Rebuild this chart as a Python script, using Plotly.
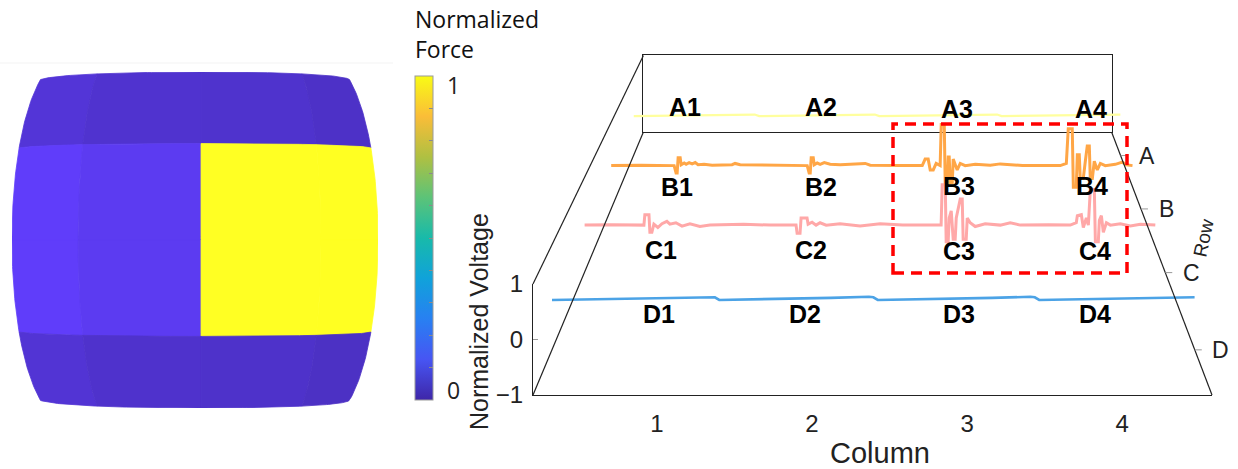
import numpy as np
import plotly.graph_objects as go
from plotly.colors import sample_colorscale, unlabel_rgb

W, H = 1238, 469

# ---------------------------------------------------------------- data
row_names = ["A", "B", "C", "D"]          # A = back row, D = front row
row_pos = [1, 2, 3, 4]
col_ticks = [1, 2, 3, 4]
z_ticks = [-1, 0, 1]
force_ticks = [0, 1]

# normalized force on the 4x4 taxel grid (rows A..D, columns 1..4)
force = [
    [0.0, 0.0, 0.0, 0.0],
    [0.0, 0.0, 1.0, 1.0],
    [0.0, 0.0, 1.0, 1.0],
    [0.0, 0.0, 0.0, 0.0],
]

# normalized voltage traces, x in column units
row_a_x = [0.2, 0.7, 1.0, 1.29, 1.33, 1.8, 2.1, 2.37, 2.41, 2.9, 3.2, 3.47, 3.51, 4.0, 4.58]
row_a_v = [-0.01, 0.01, 0.02, 0.03, -0.01, 0.01, 0.02, 0.03, -0.01, 0.01, 0.02, 0.03, -0.01, 0.01, 0.03]

row_b_x = [0.2, 0.45, 0.721, 0.737, 0.746, 0.754, 0.771, 0.779, 0.804, 0.820, 0.845, 0.870, 0.895,
           0.919, 0.969, 1.035, 1.20, 1.225, 1.267, 1.5, 1.821, 1.837, 1.846, 1.854, 1.871, 1.879,
           1.904, 1.928, 1.962, 2.011, 2.094, 2.301, 2.342, 2.6, 2.772, 2.796, 2.821, 2.838, 2.863,
           2.887, 2.920, 2.929, 2.954, 2.962, 2.978, 2.987, 2.995, 3.003, 3.020, 3.028, 3.045, 3.061,
           3.086, 3.127, 3.210, 3.334, 3.416, 3.6, 3.913, 3.963, 3.979, 4.012, 4.021, 4.045, 4.054,
           4.070, 4.078, 4.103, 4.120, 4.136, 4.153, 4.161, 4.178, 4.194, 4.219, 4.244, 4.285, 4.368,
           4.426, 4.459, 4.51]
row_b_v = [0.0, 0.01, 0.0, -0.17, -0.17, 0.18, 0.18, 0.02, 0.06, 0.03, 0.07, 0.04, 0.07,
           0.02, 0.03, 0.01, 0.02, 0.05, 0.02, 0.01, 0.0, -0.17, -0.17, 0.18, 0.18, 0.02,
           0.06, 0.03, 0.07, 0.03, 0.02, 0.05, 0.01, 0.0, 0.0, 0.15, 0.15, -0.1, -0.1,
           0.05, 0.0, 0.95, 0.95, -0.45, -0.45, 0.2, 0.2, -0.4, -0.4, 0.15, 0.0, -0.1,
           0.05, 0.0, 0.03, 0.01, 0.04, 0.0, 0.0, 0.05, 0.85, 0.85, -0.5, -0.5, 0.25,
           0.25, -0.3, -0.3, 0.1, 0.45, 0.45, -0.3, -0.3, 0.1, -0.1, 0.05, 0.0, 0.03,
           0.08, 0.02, 0.0]

row_c_x = [0.2, 0.4, 0.649, 0.656, 0.687, 0.694, 0.709, 0.724, 0.754, 0.785, 0.822, 0.845, 0.890,
           0.936, 0.996, 1.071, 1.147, 1.4, 1.6, 1.796, 1.804, 1.826, 1.834, 1.879, 1.887, 1.917,
           1.947, 1.977, 2.023, 2.128, 2.279, 2.430, 2.6, 2.890, 2.898, 2.921, 2.928, 2.943, 2.951,
           2.966, 2.981, 2.996, 3.004, 3.034, 3.049, 3.056, 3.079, 3.087, 3.109, 3.147, 3.222, 3.336,
           3.411, 3.487, 3.7, 3.864, 3.909, 3.917, 3.947, 3.962, 3.985, 4.000, 4.015, 4.045, 4.053,
           4.075, 4.083, 4.098, 4.113, 4.136, 4.166, 4.241, 4.317, 4.392, 4.505]
row_c_v = [0.0, 0.01, 0.0, 0.22, 0.22, -0.15, -0.15, 0.02, -0.05, 0.03, 0.08, 0.02, 0.05,
           -0.02, 0.03, -0.03, 0.0, 0.02, 0.0, 0.0, -0.17, -0.17, 0.15, 0.15, 0.02, 0.06,
           0.0, 0.05, 0.0, 0.03, -0.02, 0.03, 0.0, 0.0, 0.85, 0.85, -0.35, -0.35, 0.15,
           0.3, -0.3, -0.3, 0.15, 0.55, 0.55, -0.3, -0.3, 0.15, 0.05, -0.03, 0.03, 0.0,
           0.05, 0.0, 0.01, 0.0, 0.05, 0.2, 0.22, -0.05, 0.15, 0.0, 0.75, 0.75, -0.35,
           -0.35, 0.1, 0.2, -0.15, 0.05, 0.0, 0.03, -0.02, 0.02, 0.0]

row_d_x = [0.2, 0.6, 1.0, 1.28, 1.31, 1.34, 1.8, 2.1, 2.36, 2.39, 2.42, 2.9, 3.2, 3.46, 3.49, 3.52, 4.0, 4.58]
row_d_v = [-0.05, -0.03, -0.01, 0.01, 0.0, -0.05, -0.03, -0.01, 0.01, 0.0, -0.05, -0.03, -0.01, 0.01, 0.0, -0.05, -0.03, 0.0]

# --------------------------------------------------------------- styling
FONT = "Liberation Sans, Arial, sans-serif"
CB_FONT = "Open Sans, Noto Sans, sans-serif"
TRACE_STYLE = {
    "A": dict(color="#FFFF9E", width=2.2),
    "B": dict(color="#FFA646", width=3.0),
    "C": dict(color="#FFA8A8", width=3.0),
    "D": dict(color="#4CA3E6", width=2.6),
}

PARULA = [
    [0.0, "rgb(62,38,168)"],
    [0.125, "rgb(71,85,243)"],
    [0.25, "rgb(40,128,242)"],
    [0.375, "rgb(16,162,218)"],
    [0.5, "rgb(24,186,170)"],
    [0.625, "rgb(92,195,120)"],
    [0.75, "rgb(175,192,66)"],
    [0.875, "rgb(250,189,56)"],
    [1.0, "rgb(249,251,21)"],
]

# perspective box of the voltage plot (figure pixels)
X_RANGE = [0.2, 4.58]
Z_RANGE = [-1, 1]
ROW_RANGE = [0.5, 4.5]
FRONT_LEFT, FRONT_RIGHT = 533, 1212
FRONT_BOTTOM, FRONT_TOP = 395, 284
VX, VY = 888.6, -452.2
BACK_SCALE = 0.6895
A_PERSP = 1 / BACK_SCALE - 1

# colour bar geometry (figure pixels)
CB_LEFT, CB_TOP, CB_BOTTOM, CB_THICK = 415, 76, 400, 18


def depth_scale(r):
    u = (r - ROW_RANGE[0]) / (ROW_RANGE[1] - ROW_RANGE[0])
    return 1.0 / (1.0 + A_PERSP * (1.0 - u))


def plane(k):
    return (VX + k * (FRONT_LEFT - VX), VX + k * (FRONT_RIGHT - VX),
            VY + k * (FRONT_BOTTOM - VY), VY + k * (FRONT_TOP - VY))


def fx(px):
    return px / W


def fy(py):
    return 1 - py / H


fig = go.Figure()
layout_axes = {}

# ------------------------------------------------------ left: force map
TH, PH = 1.436, 1.026
BULGE_X, BULGE_Y, SHIFT = 0.156, 0.045, 0.033
ROW_LIGHT = [1.2, 1.4, 1.4, 1.18]
COL_LIGHT = [1.04, 1.0, 0.99, 0.96]


def warp(u, v):
    x = np.sin(TH * u) / np.sin(TH) * (1 - BULGE_X * v ** 2) + SHIFT * (1 - u ** 2)
    y = np.sin(PH * v) / np.sin(PH) * (1 - BULGE_Y * u ** 2)
    return x, y


n = 30
t = np.linspace(0, 1, n)
for i in range(4):
    v_top = 1 - i * 0.5
    v_bot = v_top - 0.5
    for j in range(4):
        u_l = -1 + j * 0.5
        u_r = u_l + 0.5
        us = np.concatenate([u_l + (u_r - u_l) * t, np.full(n, u_r),
                             u_r - (u_r - u_l) * t, np.full(n, u_l)])
        vs = np.concatenate([np.full(n, v_top), v_top - (v_top - v_bot) * t,
                             np.full(n, v_bot), v_bot + (v_top - v_bot) * t])
        x, y = warp(us, vs)
        base = unlabel_rgb(sample_colorscale(PARULA, [force[i][j]])[0])
        lit = [min(255, int(c * ROW_LIGHT[i] * COL_LIGHT[j] + 6)) for c in base]
        col = f"rgb({lit[0]},{lit[1]},{lit[2]})"
        fig.add_trace(go.Scatter(x=x, y=y, mode="lines", fill="toself", fillcolor=col,
                                 line=dict(color=col, width=0.8), hoverinfo="skip",
                                 showlegend=False, xaxis="x", yaxis="y"))

# colour bar carried by the (invisible) taxel centres
cu, cv = np.meshgrid([-0.75, -0.25, 0.25, 0.75], [0.75, 0.25, -0.25, -0.75])
cx, cy = warp(cu.ravel(), cv.ravel())
cb_ticks = [round(0.1 * q, 1) for q in range(11)]
fig.add_trace(go.Scatter(
    x=cx, y=cy, mode="markers", hoverinfo="skip", showlegend=False, xaxis="x", yaxis="y",
    marker=dict(size=1, opacity=0, color=np.ravel(force), colorscale=PARULA, cmin=0, cmax=1,
                showscale=True,
                colorbar=dict(x=fx(CB_LEFT), xanchor="left", y=fy(CB_TOP), yanchor="top",
                              len=(CB_BOTTOM - CB_TOP) / H, lenmode="fraction",
                              thickness=CB_THICK, thicknessmode="pixels", xpad=0, ypad=0,
                              outlinewidth=1, outlinecolor="#9a9a9a", tickvals=cb_ticks,
                              ticktext=[""] * 11, ticks="inside", ticklen=4,
                              tickcolor="#8a8a8a",
                              tickfont=dict(family=CB_FONT, size=23, color="#222")))))

layout_axes["xaxis"] = dict(domain=[fx(12), fx(378)], range=[-1, 1], visible=False, anchor="y")
layout_axes["yaxis"] = dict(domain=[fy(408), fy(72)], range=[-1, 1], visible=False, anchor="x")

# ------------------------------------------------ right: voltage traces
k_back = BACK_SCALE
bx0, bx1, byb, byt = plane(k_back)
layout_axes["xaxis2"] = dict(domain=[fx(bx0), fx(bx1)], range=X_RANGE, anchor="y2", showline=True,
                             mirror=True, linecolor="#222", linewidth=1.2, showticklabels=False,
                             ticks="", showgrid=False, zeroline=False)
layout_axes["yaxis2"] = dict(domain=[fy(byb), fy(byt)], range=Z_RANGE, anchor="x2", showline=True,
                             mirror=True, linecolor="#222", linewidth=1.2, showticklabels=False,
                             ticks="", showgrid=False, zeroline=False)
fig.add_trace(go.Scatter(x=[None], y=[None], xaxis="x2", yaxis="y2", showlegend=False))

traces = {"A": (row_a_x, row_a_v), "B": (row_b_x, row_b_v),
          "C": (row_c_x, row_c_v), "D": (row_d_x, row_d_v)}
for idx, (name, r) in enumerate(zip(row_names, row_pos)):
    ax_n = idx + 3
    k = depth_scale(r)
    x0, x1, yb, yt = plane(k)
    layout_axes[f"xaxis{ax_n}"] = dict(domain=[fx(x0), fx(x1)], range=X_RANGE, visible=False,
                                       anchor=f"y{ax_n}")
    layout_axes[f"yaxis{ax_n}"] = dict(domain=[fy(yb), fy(yt)], range=Z_RANGE, visible=False,
                                       anchor=f"x{ax_n}")
    xs, vs = traces[name]
    fig.add_trace(go.Scatter(x=xs, y=vs, mode="lines", line=dict(**TRACE_STYLE[name]),
                             xaxis=f"x{ax_n}", yaxis=f"y{ax_n}", hoverinfo="skip",
                             showlegend=False))

# front face: column and voltage axes
fx0, fx1, fyb, fyt = plane(1.0)
layout_axes["xaxis7"] = dict(domain=[fx(fx0), fx(fx1)], range=X_RANGE, anchor="y7", showline=True,
                             linecolor="#222", linewidth=1.2, tickvals=col_ticks, ticks="",
                             showgrid=False, zeroline=False, ticklabelstandoff=7,
                             tickfont=dict(family=FONT, size=24, color="#222"))
layout_axes["yaxis7"] = dict(domain=[fy(fyb), fy(fyt)], range=Z_RANGE, anchor="x7", showline=True,
                             linecolor="#222", linewidth=1.2, tickvals=z_ticks, ticks="inside",
                             ticklen=5, tickcolor="#999", showgrid=False, zeroline=False,
                             ticklabelstandoff=4,
                             tickfont=dict(family=FONT, size=24, color="#222"))
fig.add_trace(go.Scatter(x=[None], y=[None], xaxis="x7", yaxis="y7", showlegend=False))

# receding box edges
shapes = []
edges = [((fx0, fyt), (bx0, byt)), ((fx0, fyb), (bx0, byb)), ((bx1, byb), (fx1, fyb))]
for (p0, p1) in edges:
    shapes.append(dict(type="line", xref="paper", yref="paper", x0=fx(p0[0]), y0=fy(p0[1]),
                       x1=fx(p1[0]), y1=fy(p1[1]), line=dict(color="#222", width=1.2)))

annotations = []
# row ticks along the right floor edge
for name, r in zip(row_names, row_pos):
    k = depth_scale(r)
    _, xr, yb_r, _ = plane(k)
    shapes.append(dict(type="line", xref="paper", yref="paper", x0=fx(xr), y0=fy(yb_r),
                       x1=fx(xr + 7), y1=fy(yb_r), line=dict(color="#999", width=1)))
    annotations.append(dict(text=name, x=fx(xr + 26), y=fy(yb_r), xref="paper", yref="paper",
                            showarrow=False, xanchor="center", yanchor="middle",
                            font=dict(family=FONT, size=23, color="#222")))

# colour bar tick labels
for val in force_ticks:
    py = CB_BOTTOM - val * (CB_BOTTOM - CB_TOP)
    annotations.append(dict(text=str(val), x=fx(CB_LEFT + CB_THICK + 12),
                            y=fy(py + (9 if val else -10)),
                            xref="paper", yref="paper", showarrow=False, xanchor="left",
                            yanchor="middle", font=dict(family=CB_FONT, size=23, color="#222")))

annotations.append(dict(text="Row", x=fx(1203), y=fy(238), xref="paper", yref="paper",
                        showarrow=False, textangle=-78, xanchor="center", yanchor="middle",
                        font=dict(family=FONT, size=19, color="#222")))
annotations.append(dict(text="Column", x=fx(880), y=fy(453), xref="paper", yref="paper",
                        showarrow=False, xanchor="center", yanchor="middle",
                        font=dict(family=FONT, size=29, color="#222")))
annotations.append(dict(text="Normalized Voltage", x=fx(479), y=fy(322), xref="paper",
                        yref="paper", showarrow=False, textangle=-90, xanchor="center",
                        yanchor="middle", font=dict(family=FONT, size=25, color="#222")))
annotations.append(dict(text="Normalized<br>Force", x=fx(413), y=fy(34), xref="paper",
                        yref="paper", showarrow=False, xanchor="left", yanchor="middle", align="left",
                        font=dict(family=CB_FONT, size=23, color="#111")))

# taxel labels
taxel_labels = {
    "A1": (685, 107), "A2": (821, 107), "A3": (957, 109), "A4": (1091, 109),
    "B1": (677, 187), "B2": (821, 187), "B3": (959, 186), "B4": (1092, 186),
    "C1": (661, 250), "C2": (811, 250), "C3": (959, 251), "C4": (1095, 251),
    "D1": (659, 314), "D2": (805, 314), "D3": (959, 314), "D4": (1095, 314),
}
for txt, (px, py) in taxel_labels.items():
    annotations.append(dict(text=f"<b>{txt}</b>", x=fx(px), y=fy(py), xref="paper", yref="paper",
                            showarrow=False, xanchor="center", yanchor="middle",
                            font=dict(family=FONT, size=25, color="#000")))

# highlighted region (B3, B4, C3, C4)
shapes.append(dict(type="rect", xref="paper", yref="paper", x0=fx(893), y0=fy(273), x1=fx(1127),
                   y1=fy(124), line=dict(color="#FF0000", width=3.5, dash="11px,7px"),
                   fillcolor="rgba(0,0,0,0)"))
# faint frame line above the force map
shapes.append(dict(type="line", xref="paper", yref="paper", x0=0, y0=fy(63), x1=fx(393),
                   y1=fy(63), line=dict(color="#f3f3f3", width=1)))

fig.update_layout(
    width=W, height=H, margin=dict(l=0, r=0, t=0, b=0, autoexpand=False),
    paper_bgcolor="white", plot_bgcolor="rgba(0,0,0,0)",
    shapes=shapes, annotations=annotations, showlegend=False,
    **layout_axes,
)

fig.write_html("out.html")
